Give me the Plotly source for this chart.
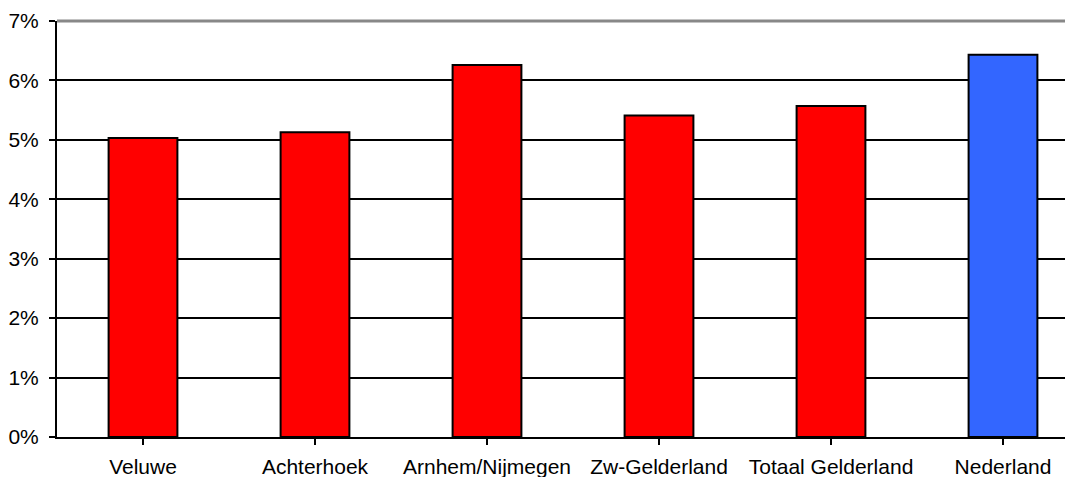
import plotly.graph_objects as go

categories = ["Veluwe", "Achterhoek", "Arnhem/Nijmegen", "Zw-Gelderland", "Totaal Gelderland", "Nederland"]
values = [0.0503, 0.0513, 0.0626, 0.0541, 0.0557, 0.0643]
colors = ["#FF0000", "#FF0000", "#FF0000", "#FF0000", "#FF0000", "#3366FF"]
y_ticks = [0, 0.01, 0.02, 0.03, 0.04, 0.05, 0.06, 0.07]

fig = go.Figure()
fig.add_trace(go.Bar(
    x=list(range(len(categories))),
    y=values,
    marker=dict(color=colors, line=dict(color="black", width=2)),
    width=0.4,
))

fig.update_layout(
    width=1065, height=469,
    margin=dict(l=49, r=0, t=13, b=40),
    paper_bgcolor="white", plot_bgcolor="white",
    showlegend=False,
    font=dict(family="Liberation Sans, Arial, sans-serif", size=21, color="black"),
    xaxis=dict(
        tickmode="array",
        tickvals=list(range(len(categories))),
        ticktext=categories,
        range=[-0.5, 5.407],
        showgrid=False,
        showline=True, linecolor="black", linewidth=2,
        ticks="outside", ticklen=6, tickwidth=2, tickcolor="black",
        tickson="boundaries",
        tickfont=dict(size=21),
        ticklabelstandoff=4,
        zeroline=False,
        automargin=False,
    ),
    yaxis=dict(
        range=[0, 0.07],
        tickvals=y_ticks,
        tickformat=".0%",
        showgrid=True, gridcolor="black", gridwidth=2,
        showline=True, linecolor="black", linewidth=2,
        ticks="outside", ticklen=6, tickwidth=2, tickcolor="black",
        tickfont=dict(size=21),
        ticklabelstandoff=6,
        zeroline=False,
        automargin=False,
    ),
    shapes=[dict(type="line", xref="paper", yref="paper", x0=0, x1=1, y0=1, y1=1,
                 line=dict(color="#888888", width=3))],
)

fig.write_html("out.html")
